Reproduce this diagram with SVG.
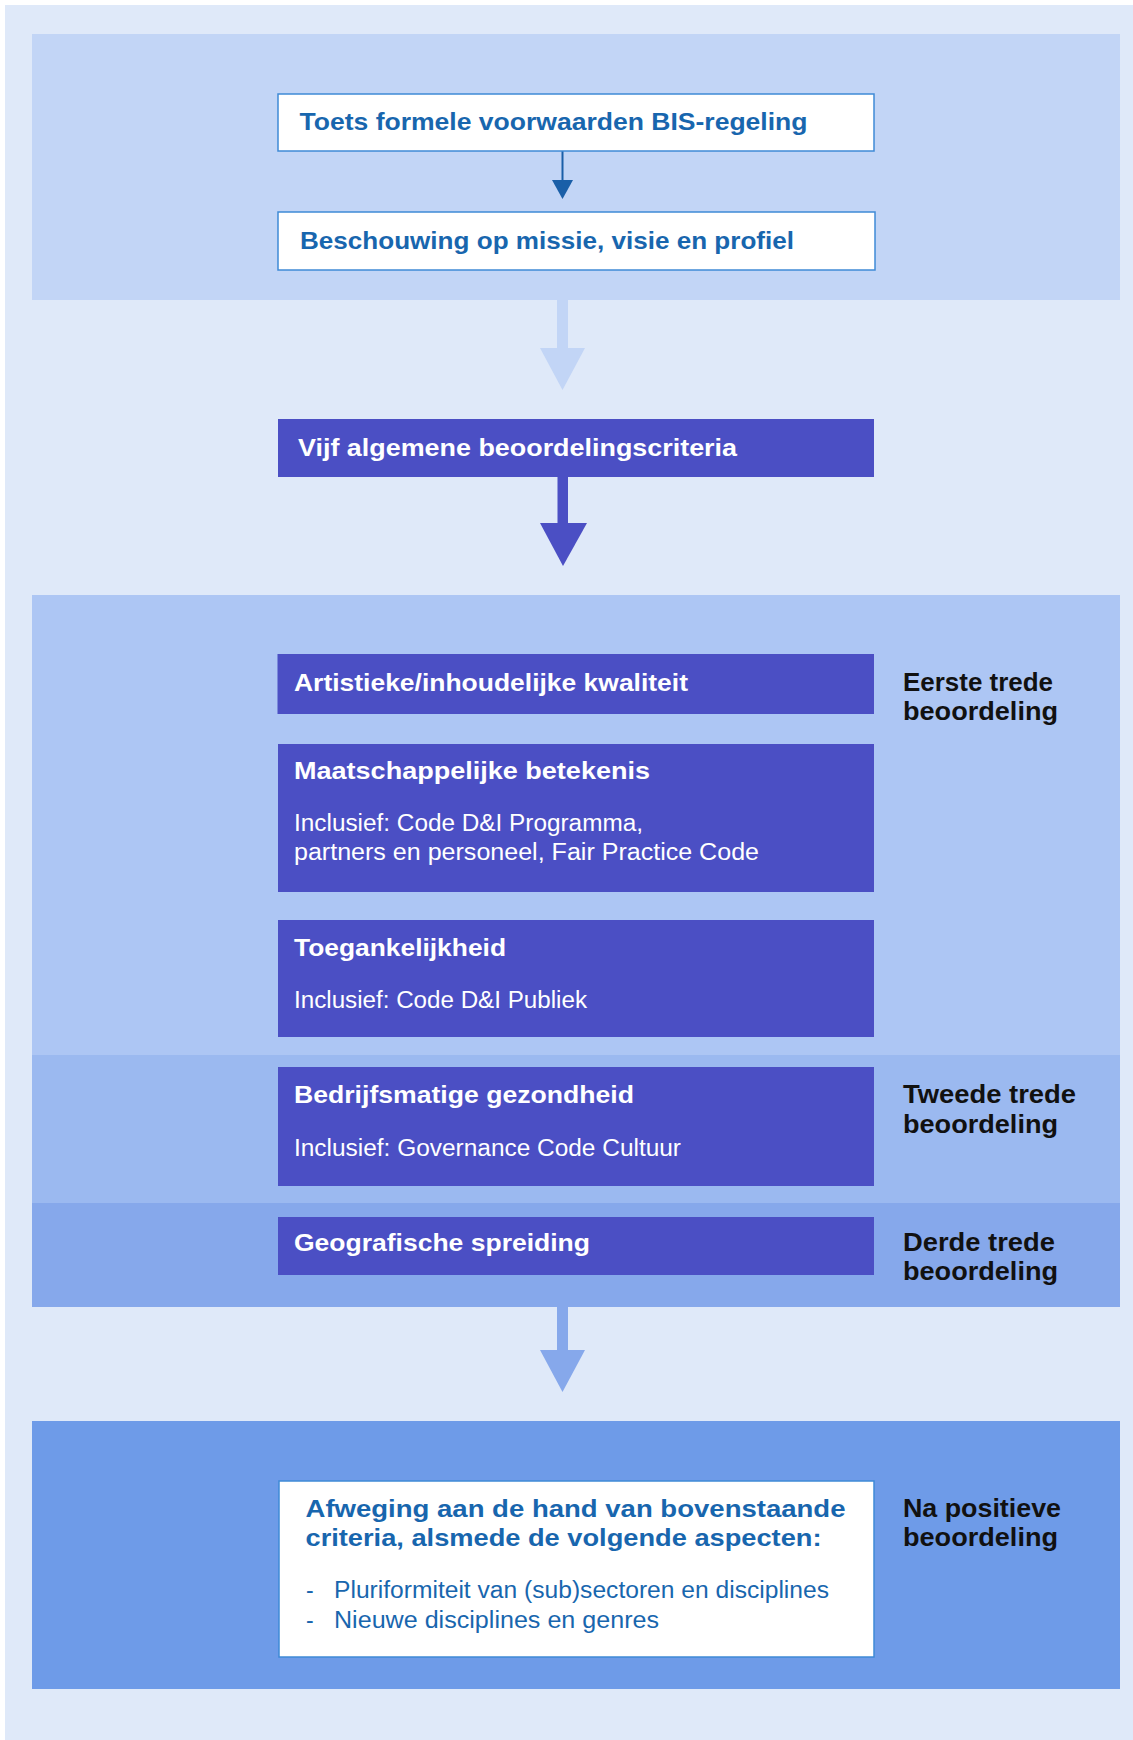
<svg xmlns="http://www.w3.org/2000/svg" width="1133" height="1740" viewBox="0 0 1133 1740">
<style>
.t{font-family:"Liberation Sans",Arial,sans-serif;font-weight:bold;font-size:24px}
.blue{fill:#1866ae}
.white{fill:#ffffff}
.lab{font-family:"Liberation Sans",Arial,sans-serif;font-weight:bold;font-size:25px;fill:#111111}
.sub{font-family:"Liberation Sans",Arial,sans-serif;font-size:23px;fill:#ffffff}
.subb{font-family:"Liberation Sans",Arial,sans-serif;font-size:23px;fill:#1866ae}
.wbox{fill:#ffffff;stroke:#3f8ad6;stroke-width:1.5}
.dbox{fill:#4b4fc4}
</style>
<rect x="0" y="0" width="1133" height="1740" fill="#ffffff"/>
<rect x="5" y="5" width="1128" height="1735" fill="#dfe9f9"/>
<g id="bands">
<rect x="32" y="34" width="1088" height="266" fill="#c2d5f6"/>
<rect x="32" y="595" width="1088" height="460" fill="#adc6f4"/>
<rect x="32" y="1055" width="1088" height="148" fill="#9bb9f0"/>
<rect x="32" y="1203" width="1088" height="104" fill="#86a8eb"/>
<rect x="32" y="1421" width="1088" height="268" fill="#6e9be8"/>
</g>
<g id="connectors">
<line x1="562.5" y1="151" x2="562.5" y2="182" stroke="#1a5fa8" stroke-width="2"/>
<polygon points="552,180 573,180 562.5,199" fill="#1a5fa8"/>
<rect x="557" y="300" width="11" height="49" fill="#c2d5f6"/>
<polygon points="540,348 585,348 562.5,390" fill="#c2d5f6"/>
<rect x="557.5" y="477" width="10.5" height="47" fill="#4b4fc4"/>
<polygon points="540,523 587,523 563,566" fill="#4b4fc4"/>
<rect x="557" y="1307" width="11" height="44" fill="#86a8eb"/>
<polygon points="540,1350 585,1350 562.5,1392" fill="#86a8eb"/>
</g>
<g id="node-toets">
<rect class="wbox" x="278" y="94" width="596" height="57"/>
<text class="t blue" x="299.5" y="130" textLength="508" lengthAdjust="spacingAndGlyphs">Toets formele voorwaarden BIS-regeling</text>
</g>
<g id="node-beschouwing">
<rect class="wbox" x="278" y="212" width="597" height="58"/>
<text class="t blue" x="300" y="249" textLength="494" lengthAdjust="spacingAndGlyphs">Beschouwing op missie, visie en profiel</text>
</g>
<g id="node-vijf">
<rect class="dbox" x="278" y="419" width="596" height="58"/>
<text class="t white" x="298" y="456" textLength="439" lengthAdjust="spacingAndGlyphs">Vijf algemene beoordelingscriteria</text>
</g>
<g id="node-artistieke">
<rect class="dbox" x="277.5" y="654" width="596.5" height="60"/>
<text class="t white" x="294" y="691" textLength="394" lengthAdjust="spacingAndGlyphs">Artistieke/inhoudelijke kwaliteit</text>
</g>
<g id="node-maatschappelijke">
<rect class="dbox" x="278" y="744" width="596" height="148"/>
<text class="t white" x="294" y="779" textLength="356" lengthAdjust="spacingAndGlyphs">Maatschappelijke betekenis</text>
<text class="sub" x="294" y="831" textLength="349" lengthAdjust="spacingAndGlyphs">Inclusief: Code D&amp;I Programma,</text>
<text class="sub" x="294" y="860" textLength="465" lengthAdjust="spacingAndGlyphs">partners en personeel, Fair Practice Code</text>
</g>
<g id="node-toegankelijkheid">
<rect class="dbox" x="278" y="920" width="596" height="117"/>
<text class="t white" x="294" y="956" textLength="212" lengthAdjust="spacingAndGlyphs">Toegankelijkheid</text>
<text class="sub" x="294" y="1008" textLength="293" lengthAdjust="spacingAndGlyphs">Inclusief: Code D&amp;I Publiek</text>
</g>
<g id="node-bedrijfsmatige">
<rect class="dbox" x="278" y="1067" width="596" height="119"/>
<text class="t white" x="294" y="1103" textLength="340" lengthAdjust="spacingAndGlyphs">Bedrijfsmatige gezondheid</text>
<text class="sub" x="294" y="1156" textLength="387" lengthAdjust="spacingAndGlyphs">Inclusief: Governance Code Cultuur</text>
</g>
<g id="node-geografische">
<rect class="dbox" x="278" y="1217" width="596" height="58"/>
<text class="t white" x="294" y="1251" textLength="296" lengthAdjust="spacingAndGlyphs">Geografische spreiding</text>
</g>
<g id="node-afweging">
<rect class="wbox" x="279" y="1481" width="595" height="176"/>
<text class="t blue" x="305.5" y="1517" textLength="540" lengthAdjust="spacingAndGlyphs">Afweging aan de hand van bovenstaande</text>
<text class="t blue" x="305.5" y="1546" textLength="516" lengthAdjust="spacingAndGlyphs">criteria, alsmede de volgende aspecten:</text>
<text class="subb" x="306" y="1598">-</text>
<text class="subb" x="334" y="1598" textLength="495" lengthAdjust="spacingAndGlyphs">Pluriformiteit van (sub)sectoren en disciplines</text>
<text class="subb" x="306" y="1628">-</text>
<text class="subb" x="334" y="1628" textLength="325" lengthAdjust="spacingAndGlyphs">Nieuwe disciplines en genres</text>
</g>
<g id="labels">
<text class="lab" x="903" y="691" textLength="150" lengthAdjust="spacingAndGlyphs">Eerste trede</text>
<text class="lab" x="903" y="720" textLength="155" lengthAdjust="spacingAndGlyphs">beoordeling</text>
<text class="lab" x="903" y="1103" textLength="173" lengthAdjust="spacingAndGlyphs">Tweede trede</text>
<text class="lab" x="903" y="1133" textLength="155" lengthAdjust="spacingAndGlyphs">beoordeling</text>
<text class="lab" x="903" y="1251" textLength="152" lengthAdjust="spacingAndGlyphs">Derde trede</text>
<text class="lab" x="903" y="1280" textLength="155" lengthAdjust="spacingAndGlyphs">beoordeling</text>
<text class="lab" x="903" y="1517" textLength="158" lengthAdjust="spacingAndGlyphs">Na positieve</text>
<text class="lab" x="903" y="1546" textLength="155" lengthAdjust="spacingAndGlyphs">beoordeling</text>
</g>
</svg>
